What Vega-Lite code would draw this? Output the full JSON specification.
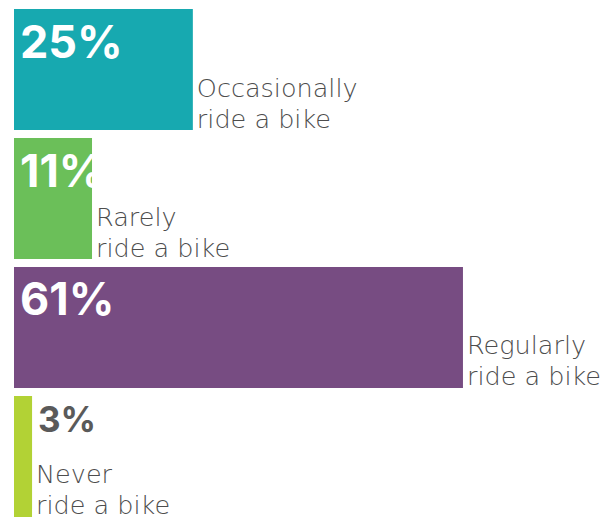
{
  "$schema": "https://vega.github.io/schema/vega-lite/v6.json",
  "width": 602,
  "height": 520,
  "padding": 0,
  "autosize": {"type": "none"},
  "background": "white",
  "config": {"view": {"stroke": null}},
  "data": {
    "values": [
      {"group": "Occasionally", "value": 24.3, "pct": "25%", "label": "Occasionally\nride a bike"},
      {"group": "Rarely", "value": 10.6, "pct": "11%", "label": "Rarely\nride a bike"},
      {"group": "Regularly", "value": 61, "pct": "61%", "label": "Regularly\nride a bike"},
      {"group": "Never", "value": 2.45, "pct": "3%", "label": "Never\nride a bike"}
    ]
  },
  "encoding": {
    "y": {
      "field": "group",
      "type": "nominal",
      "sort": null,
      "axis": null,
      "scale": {"range": [9, 517], "paddingInner": 0.062, "paddingOuter": 0}
    }
  },
  "layer": [
    {
      "mark": {"type": "bar"},
      "encoding": {
        "x": {"field": "value", "type": "quantitative", "axis": null, "scale": {"domain": [0, 100], "range": [14, 750], "nice": false, "zero": true}},
        "color": {
          "field": "group",
          "type": "nominal",
          "legend": null,
          "scale": {"domain": ["Occasionally", "Rarely", "Regularly", "Never"], "range": ["#17A9B0", "#6BBF59", "#774C82", "#B2D235"]}
        }
      }
    },
    {
      "transform": [{"filter": "datum.value >= 5"}],
      "mark": {"type": "text", "align": "left", "baseline": "alphabetic", "dx": 6, "dy": -12, "font": "Inter", "fontWeight": "bold", "fontSize": 45, "color": "white"},
      "encoding": {
        "x": {"datum": 0, "type": "quantitative"},
        "text": {"field": "pct"}
      }
    },
    {
      "transform": [{"filter": "datum.value < 5"}],
      "mark": {"type": "text", "align": "left", "baseline": "alphabetic", "dx": 6, "dy": -24, "font": "Inter", "fontWeight": "bold", "fontSize": 35, "color": "#5a5a5a"},
      "encoding": {
        "x": {"field": "value", "type": "quantitative"},
        "text": {"field": "pct"}
      }
    },
    {
      "mark": {"type": "text", "align": "left", "baseline": "alphabetic", "dx": 4, "dy": 27, "lineBreak": "\n", "lineHeight": 31, "font": "DejaVu Sans", "fontWeight": 200, "fontSize": 25.5, "color": "#4d4d4d"},
      "encoding": {
        "x": {"field": "value", "type": "quantitative"},
        "text": {"field": "label"}
      }
    }
  ]
}
